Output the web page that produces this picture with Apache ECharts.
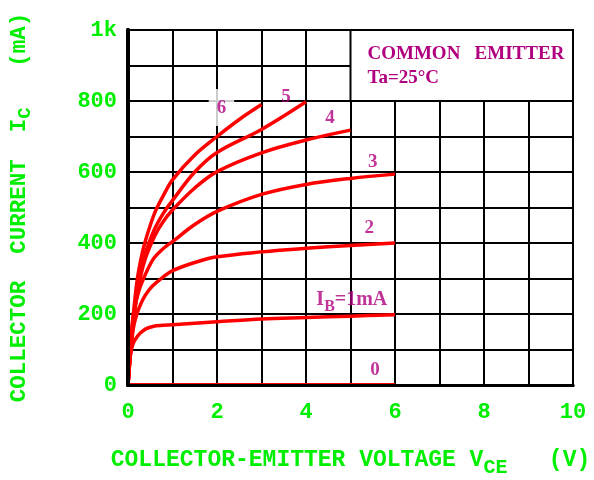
<!DOCTYPE html>
<html>
<head>
<meta charset="utf-8">
<script src="https://cdn.jsdelivr.net/npm/echarts@6/dist/echarts.min.js"></script>
<style>
  html, body { margin: 0; padding: 0; background: #fff; }
  #chart { width: 594px; height: 480px; }
</style>
</head>
<body>
<div id="chart"></div>
<script>
const GREEN = "#00ee00"
const MAGENTA = "#b0007f"
const RED = "#ff0000"
const MONO = "Liberation Mono"
const SERIF = "Liberation Serif"

const xTickLabels = ["0", "2", "4", "6", "8", "10"]
const yTickLabels = ["0", "200", "400", "600", "800", "1k"]

// [VCE (V), IC (mA)], one list per base current
const ib0 = [[0, 0], [6, 0]]
const ib1 = [[0, 0], [0.03, 60], [0.06, 90], [0.12, 118], [0.2, 135], [0.27, 146], [0.4, 158], [0.56, 165], [0.8, 168], [1, 170], [2, 178], [3, 186], [4, 190], [5, 194], [6, 198]]
const ib2 = [[0, 0], [0.05, 80], [0.12, 160], [0.2, 200], [0.3, 232], [0.4, 255], [0.56, 280], [0.8, 305], [1, 322], [1.5, 345], [2, 361], [3, 375], [4, 385], [5, 393], [6, 400]]
const ib3 = [[0, 0], [0.05, 100], [0.12, 200], [0.2, 245], [0.3, 285], [0.56, 353], [0.8, 385], [1, 404], [1.5, 452], [2, 489], [3, 537], [4, 565], [5, 582], [6, 594]]
const ib4 = [[0, 0], [0.05, 80], [0.1, 150], [0.2, 250], [0.3, 315], [0.4, 360], [0.6, 420], [0.8, 462], [1, 493], [1.5, 555], [2, 601], [3, 654], [4, 690], [5, 718]]
const ib5 = [[0, 0], [0.05, 85], [0.1, 160], [0.2, 265], [0.3, 330], [0.4, 375], [0.6, 440], [0.8, 485], [1, 520], [1.5, 600], [2, 655], [3, 720], [4, 798]]
const ib6 = [[0, 0], [0.05, 90], [0.1, 170], [0.2, 290], [0.3, 360], [0.4, 410], [0.6, 485], [0.8, 535], [1, 578], [1.5, 648], [2, 700], [2.5, 748], [3, 790]]

const curves = [ib0, ib1, ib2, ib3, ib4, ib5, ib6]

// curve tags, placed in data units
const tagTexts = ["6", "5", "4", "3", "2", "{n|I}{s|B}{n|=1mA}", "0"]
const tagVce = [2.1, 3.55, 4.54, 5.5, 5.42, 5.03, 5.55]
const tagIc = [782, 812, 752, 628, 442, 240, 42]

const noteText = "COMMON   EMITTER\nTa=25°C"

const chart = echarts.init(document.getElementById("chart"))

const tagData = tagTexts.map((t, i) => {
  const item = { value: [tagVce[i], tagIc[i]], label: { formatter: t } }
  if (t === "6") {
    item.label.backgroundColor = "#fff"
    item.label.padding = [10, 8, 8, 8]
  }
  return item
})

const curveSeries = curves.map((pts, i) => {
  const s = {
    type: "line",
    name: "IB=" + i,
    data: pts,
    smooth: 0.35,
    showSymbol: false,
    z: 3,
    lineStyle: { color: RED, width: i === 0 ? 4 : 3.5 },
    animation: false
  }
  if (i === 0) {
    s.markArea = {
      silent: true,
      itemStyle: { color: "#fff", borderColor: "#000", borderWidth: 2 },
      label: {
        show: true,
        position: "insideTopLeft",
        formatter: noteText,
        color: MAGENTA,
        fontFamily: SERIF,
        fontWeight: "bold",
        fontSize: 19,
        lineHeight: 24,
        padding: [8, 0, 0, 13]
      },
      data: [[{ xAxis: 5, yAxis: 800 }, { xAxis: 10, yAxis: 1000 }]]
    }
  }
  return s
})

chart.setOption({
  animation: false,
  backgroundColor: "#fff",
  grid: { left: 128, right: 21, top: 30, bottom: 95, outerBoundsMode: "none", containLabel: false },
  xAxis: [
    {
      type: "value",
      min: 0,
      max: 10,
      interval: 2,
      axisLine: { show: true, lineStyle: { color: "#000", width: 3 } },
      axisTick: { show: false },
      axisLabel: {
        color: GREEN,
        fontFamily: MONO,
        fontWeight: "bold",
        fontSize: 22,
        margin: 16,
        formatter: (v) => xTickLabels[Math.round(v / 2)]
      },
      splitLine: { show: true, lineStyle: { color: "#000", width: 2 } },
      minorTick: { show: false, splitNumber: 2 },
      minorSplitLine: { show: true, lineStyle: { color: "#000", width: 2 } },
      name: "{t|COLLECTOR-EMITTER VOLTAGE V}{s|CE}{t|   (V)}",
      nameLocation: "middle",
      nameGap: 57,
      nameTextStyle: {
        rich: {
          t: { color: GREEN, fontFamily: MONO, fontWeight: "bold", fontSize: 23 },
          s: { color: GREEN, fontFamily: MONO, fontWeight: "bold", fontSize: 20, lineHeight: 36, verticalAlign: "bottom" }
        }
      }
    },
    {
      type: "value",
      position: "top",
      min: 0,
      max: 10,
      z: 10,
      axisLine: { show: true, lineStyle: { color: "#000", width: 3 } },
      axisTick: { show: false },
      axisLabel: { show: false },
      splitLine: { show: false }
    }
  ],
  yAxis: [
    {
      type: "value",
      min: 0,
      max: 1000,
      interval: 200,
      axisLine: { show: true, lineStyle: { color: "#000", width: 4 } },
      axisTick: { show: false },
      axisLabel: {
        color: GREEN,
        fontFamily: MONO,
        fontWeight: "bold",
        fontSize: 22,
        margin: 11,
        formatter: (v) => yTickLabels[Math.round(v / 200)]
      },
      splitLine: { show: true, lineStyle: { color: "#000", width: 2 } },
      minorTick: { show: false, splitNumber: 2 },
      minorSplitLine: { show: true, lineStyle: { color: "#000", width: 2 } },
      name: "{t|COLLECTOR  CURRENT  I}{s|C}{t|   (mA)}",
      nameLocation: "middle",
      nameRotate: 90,
      nameGap: 93,
      nameTextStyle: {
        rich: {
          t: { color: GREEN, fontFamily: MONO, fontWeight: "bold", fontSize: 22.5 },
          s: { color: GREEN, fontFamily: MONO, fontWeight: "bold", fontSize: 19, lineHeight: 32, verticalAlign: "bottom" }
        }
      }
    },
    {
      type: "value",
      position: "right",
      min: 0,
      max: 1000,
      z: 10,
      axisLine: { show: true, lineStyle: { color: "#000", width: 4 } },
      axisTick: { show: false },
      axisLabel: { show: false },
      splitLine: { show: false }
    }
  ],
  series: [
    ...curveSeries,
    {
      type: "scatter",
      name: "tags",
      data: tagData,
      symbolSize: 0,
      silent: true,
      z: 1,
      label: {
        show: true,
        position: "inside",
        color: MAGENTA,
        fontFamily: SERIF,
        fontWeight: "bold",
        fontSize: 19,
        rich: {
          n: { color: MAGENTA, fontFamily: SERIF, fontWeight: "bold", fontSize: 20 },
          s: { color: MAGENTA, fontFamily: SERIF, fontWeight: "bold", fontSize: 16, lineHeight: 30, verticalAlign: "bottom" }
        }
      }
    }
  ]
})
</script>
</body>
</html>
